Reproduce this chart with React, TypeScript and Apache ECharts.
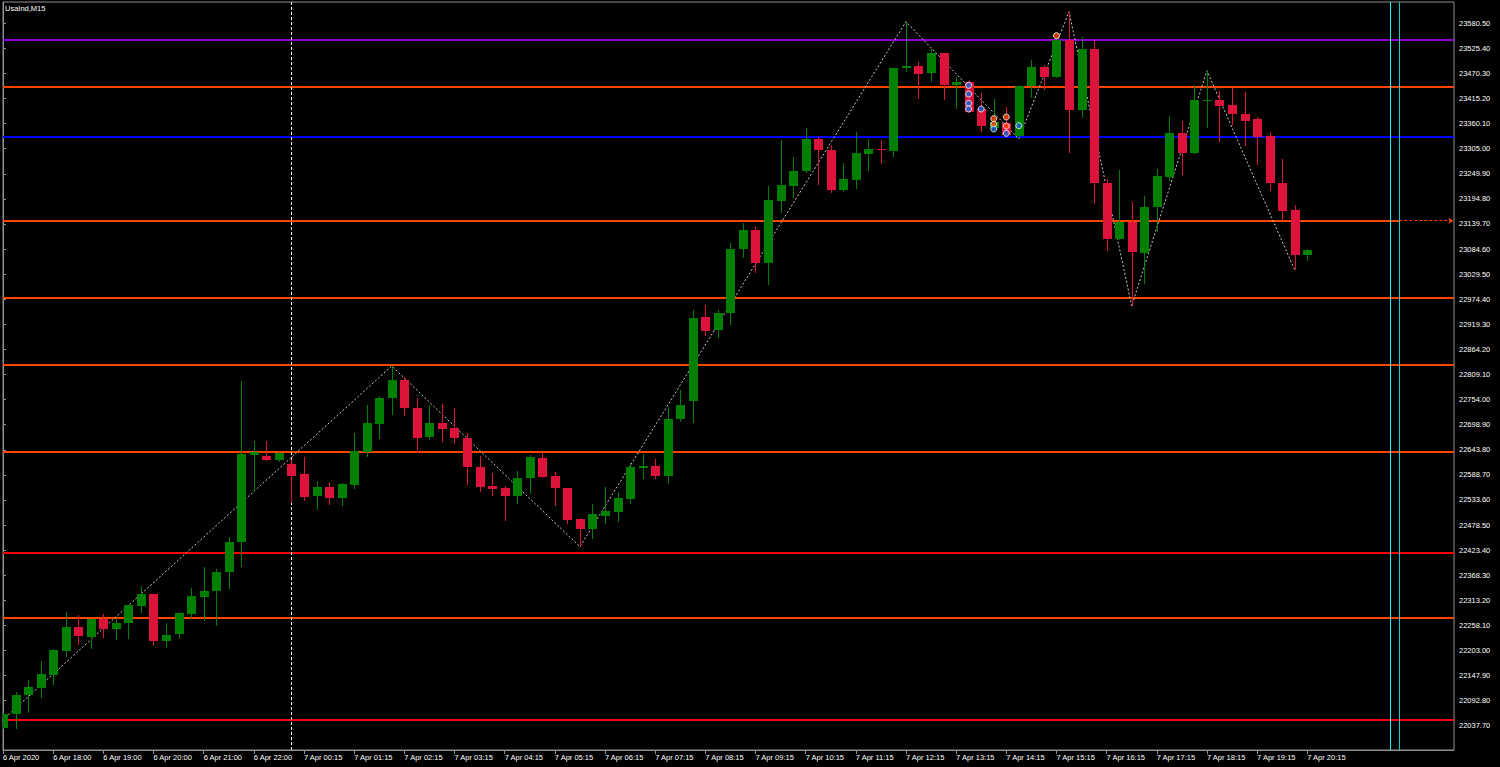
import React, { useEffect, useRef } from "react";
import * as echarts from "echarts";

const chartTitle = "UsaInd,M15";

const xLabelIdx = [0, 4, 8, 12, 16, 20, 24, 28, 32, 36, 40, 44, 48, 52, 56, 60, 64, 68, 72, 76, 80, 84, 88, 92, 96, 100, 104];
const xLabels = [
  "6 Apr 2020", "6 Apr 18:00", "6 Apr 19:00", "6 Apr 20:00", "6 Apr 21:00", "6 Apr 22:00",
  "7 Apr 00:15", "7 Apr 01:15", "7 Apr 02:15", "7 Apr 03:15", "7 Apr 04:15", "7 Apr 05:15",
  "7 Apr 06:15", "7 Apr 07:15", "7 Apr 08:15", "7 Apr 09:15", "7 Apr 10:15", "7 Apr 11:15",
  "7 Apr 12:15", "7 Apr 13:15", "7 Apr 14:15", "7 Apr 15:15", "7 Apr 16:15", "7 Apr 17:15",
  "7 Apr 18:15", "7 Apr 19:15", "7 Apr 20:15",
];

const yTicks = [
  22037.7, 22092.8, 22147.9, 22203.0, 22258.1, 22313.2, 22368.3, 22423.4, 22478.5, 22533.6,
  22588.7, 22643.8, 22698.9, 22754.0, 22809.1, 22864.2, 22919.3, 22974.4, 23029.5, 23084.6,
  23139.7, 23194.8, 23249.9, 23305.0, 23360.1, 23415.2, 23470.3, 23525.4, 23580.5,
];

const opens = [
  22032.0, 22062.7, 22105.8, 22121.2, 22149.1, 22202.4, 22253.8, 22233.2, 22272.7, 22250.8,
  22262.6, 22301.3, 22326.3, 22223.7, 22239.1, 22283.0, 22321.1, 22334.2, 22375.3, 22441.9,
  22633.0, 22630.1, 22621.3, 22611.9, 22589.9, 22542.2, 22562.0, 22538.5, 22566.4, 22639.5,
  22701.0, 22756.8, 22797.0, 22736.2, 22671.2, 22701.9, 22691.6, 22670.3, 22605.3, 22564.2,
  22559.2, 22542.9, 22581.8, 22626.4, 22586.2, 22560.5, 22491.7, 22469.1, 22499.0, 22507.8,
  22535.7, 22604.4, 22608.1, 22586.8, 22710.7, 22750.9, 22935.4, 22906.9, 22943.5, 23084.8,
  23126.5, 23053.4, 23190.9, 23223.8, 23256.1, 23325.7, 23302.2, 23214.4, 23236.3, 23292.8,
  23304.4, 23300.7, 23483.4, 23486.7, 23470.7, 23515.9, 23445.7, 23452.3, 23392.3, 23350.5,
  23360.9, 23333.6, 23442.8, 23483.9, 23463.2, 23543.8, 23390.1, 23524.1, 23229.1, 23106.1,
  23144.7, 23076.6, 23177.7, 23243.6, 23338.9, 23296.3, 23409.9, 23412.1, 23401.1, 23382.0,
  23370.3, 23333.6, 23230.4, 23170.4, 23071.6,
];
const closes = [
  22062.7, 22105.1, 22122.7, 22150.6, 22204.0, 22253.8, 22235.4, 22272.7, 22250.8, 22263.3,
  22302.2, 22326.3, 22223.7, 22236.3, 22284.6, 22322.6, 22333.6, 22375.3, 22441.2, 22634.5,
  22638.2, 22621.3, 22636.0, 22586.8, 22540.7, 22562.0, 22538.5, 22568.6, 22641.1, 22701.9,
  22756.8, 22797.0, 22734.9, 22669.6, 22702.6, 22689.4, 22669.0, 22605.3, 22562.7, 22557.6,
  22542.9, 22581.8, 22628.6, 22583.3, 22560.5, 22489.5, 22469.8, 22502.0, 22510.0, 22538.5,
  22606.6, 22608.1, 22586.8, 22711.4, 22742.1, 22933.2, 22904.7, 22944.2, 23085.4, 23126.5,
  23053.4, 23192.4, 23225.4, 23256.1, 23325.7, 23302.2, 23214.4, 23237.9, 23295.0, 23304.4,
  23303.0, 23481.7, 23486.1, 23468.5, 23514.6, 23445.0, 23450.9, 23386.4, 23354.9, 23363.7,
  23335.2, 23443.5, 23485.2, 23463.2, 23543.8, 23390.1, 23524.1, 23229.1, 23106.1, 23143.4,
  23077.5, 23177.7, 23245.8, 23340.2, 23295.0, 23412.1, 23411.4, 23399.5, 23380.6, 23366.6,
  23330.8, 23229.1, 23168.2, 23071.6, 23082.6,
];
const highs = [
  22065.6, 22112.4, 22138.1, 22179.8, 22205.5, 22286.8, 22280.9, 22272.7, 22283.0, 22274.9,
  22302.2, 22344.6, 22326.3, 22263.3, 22286.8, 22339.5, 22385.6, 22381.2, 22452.8, 22794.8,
  22663.0, 22663.0, 22639.5, 22621.3, 22628.6, 22575.2, 22570.1, 22570.1, 22681.3, 22742.1,
  22761.9, 22827.8, 22804.3, 22756.8, 22742.1, 22743.7, 22736.2, 22680.0, 22630.1, 22593.4,
  22564.2, 22597.1, 22632.3, 22636.0, 22595.6, 22560.5, 22494.6, 22524.7, 22562.7, 22551.7,
  22614.1, 22634.5, 22623.5, 22738.4, 22775.1, 22950.8, 22961.8, 22950.8, 23097.3, 23142.5,
  23132.4, 23223.2, 23324.2, 23287.5, 23349.9, 23331.4, 23313.2, 23273.0, 23342.4, 23326.4,
  23324.2, 23481.7, 23584.0, 23494.9, 23523.4, 23515.9, 23463.2, 23455.0, 23426.8, 23413.6,
  23396.0, 23445.7, 23499.9, 23488.9, 23548.9, 23606.0, 23549.8, 23543.8, 23237.9, 23258.3,
  23187.4, 23201.2, 23260.5, 23376.9, 23365.9, 23443.5, 23476.4, 23431.8, 23437.8, 23430.3,
  23375.4, 23341.1, 23282.5, 23181.4, 23084.1,
];
const lows = [
  22030.5, 22029.8, 22064.9, 22099.2, 22127.1, 22189.3, 22215.0, 22206.2, 22231.0, 22225.9,
  22228.1, 22284.6, 22215.0, 22207.7, 22228.1, 22272.1, 22268.3, 22257.4, 22337.3, 22386.9,
  22551.7, 22619.1, 22616.3, 22526.2, 22531.3, 22511.5, 22522.5, 22520.9, 22557.6, 22628.6,
  22666.8, 22720.1, 22718.0, 22637.3, 22665.2, 22661.5, 22655.8, 22566.4, 22551.7, 22542.9,
  22488.0, 22524.7, 22546.0, 22581.1, 22520.9, 22480.1, 22430.9, 22447.8, 22480.7, 22484.5,
  22524.7, 22579.6, 22579.6, 22568.6, 22705.4, 22701.9, 22893.7, 22889.3, 22917.8, 23065.7,
  23032.7, 23005.7, 23163.2, 23196.1, 23252.4, 23225.4, 23208.4, 23210.6, 23216.6, 23256.1,
  23271.5, 23287.5, 23474.2, 23414.3, 23452.3, 23412.1, 23392.3, 23384.0, 23341.1, 23342.4,
  23331.4, 23326.4, 23415.8, 23434.0, 23461.0, 23296.3, 23373.2, 23183.0, 23081.0, 23104.5,
  22959.6, 23007.2, 23122.8, 23234.8, 23247.3, 23292.8, 23349.9, 23320.5, 23357.1, 23311.7,
  23269.3, 23212.2, 23146.3, 23038.6, 23059.1,
];

// zigzag vertices: bar index and price
const zigIdx = [-1, 31, 46, 72, 81, 85, 90, 96, 103];
const zigVal = [22026.0, 22827.8, 22430.9, 23584.0, 23326.4, 23606.0, 22959.6, 23476.4, 23038.6];

// horizontal levels
const levelVals = [23543.8, 23440.6, 23331.4, 22978.7, 22830.6, 22639.5, 22417.7, 22274.9, 22050.2];
const levelColors = ["#9400D3", "#FF4500", "#0000FF", "#FF4500", "#FF4500", "#FF4500", "#FF0000", "#FF4500", "#FF0000"];
const alertLevel = 23146.9;

// vertical lines (bar index positions)
const daySeparatorIdx = 23;
const cyanIdx = [110.65, 111.34];
const cyanColors = ["#00FFFF", "#00CED1"];

// trade markers
const markerIdx = [77, 77, 77, 77, 78, 79, 79, 79, 80, 80, 80, 81, 84];
const markerVal = [23444.3, 23425.2, 23404.8, 23392.3, 23392.3, 23371.0, 23358.7, 23348.4, 23374.7, 23354.9, 23338.9, 23355.6, 23553.3];
const markerSide = ["buy", "buy", "buy", "buy", "buy", "sell", "sell", "buy", "sell", "sell", "buy", "buy", "sell"];

const X_MIN = 0;
const X_MAX = 115.7;
const Y_MIN = 21984.3;
const Y_MAX = 23627.3;

const GREEN = "#008000";
const RED = "#DC143C";
const AXIS = "#909090";
const FONT = "Liberation Sans";
const FS = 7.5;

export default function App() {
  const ref = useRef<HTMLDivElement>(null);

  useEffect(() => {
    document.body.style.margin = "0";
    document.body.style.background = "#000";
    if (!ref.current) return;
    const chart = echarts.init(ref.current, undefined, { renderer: "svg" });

    const candleData = opens.map((o, i) => [i, o, closes[i], lows[i], highs[i]]);
    const zigData = zigIdx.map((x, i) => [x, zigVal[i]]);
    const markerData = markerIdx.map((x, i) => ({
      value: [x, markerVal[i]],
      itemStyle: { color: markerSide[i] === "buy" ? "#1E64D2" : "#FF4500" },
    }));

    const markLines: any[] = [];
    levelVals.forEach((v, i) => {
      markLines.push({ yAxis: v, lineStyle: { color: levelColors[i], width: 2, type: "solid" } });
    });
    markLines.push([
      { coord: [X_MIN, alertLevel], lineStyle: { color: "#FF4500", width: 2, type: "solid" } },
      { coord: [cyanIdx[1], alertLevel] },
    ]);
    markLines.push([
      { coord: [cyanIdx[1], alertLevel], lineStyle: { color: "#FF4500", width: 1, type: [3, 2] } },
      { coord: [X_MAX - 0.05, alertLevel], symbol: "arrow", symbolSize: 5 },
    ]);
    markLines.push({ xAxis: daySeparatorIdx, lineStyle: { color: "#ffffff", width: 1, type: [3, 2] } });
    cyanIdx.forEach((x, i) => {
      markLines.push({ xAxis: x, lineStyle: { color: cyanColors[i], width: 1, type: "solid" } });
    });

    const option: any = {
      animation: false,
      backgroundColor: "#000000",
      textStyle: { fontFamily: FONT },
      graphic: [
        {
          type: "text",
          left: 5,
          top: 4,
          style: { text: chartTitle, fill: "#ffffff", font: `${FS}px ${FONT}` },
        },
      ],
      grid: {
        left: 2,
        top: 2,
        width: 1452,
        height: 748,
        show: true,
        borderColor: AXIS,
        borderWidth: 1,
        backgroundColor: "#000000",
      },
      xAxis: {
        type: "value",
        min: X_MIN,
        max: X_MAX,
        axisLine: { show: true, lineStyle: { color: AXIS } },
        axisTick: { show: true, length: 4, customValues: xLabelIdx, lineStyle: { color: AXIS } },
        axisLabel: {
          customValues: xLabelIdx,
          formatter: (v: number) => {
            const k = xLabelIdx.indexOf(Math.round(v));
            return k >= 0 ? xLabels[k] : "";
          },
          align: "left",
          margin: 3,
          color: "#ffffff",
          fontSize: FS,
          fontFamily: FONT,
        },
        splitLine: { show: false },
      },
      yAxis: {
        type: "value",
        position: "right",
        min: Y_MIN,
        max: Y_MAX,
        scale: true,
        axisLine: { show: true, lineStyle: { color: AXIS } },
        axisTick: { show: true, length: 3, customValues: yTicks, lineStyle: { color: AXIS } },
        axisLabel: {
          customValues: yTicks,
          formatter: (v: number) => v.toFixed(2),
          margin: 5,
          color: "#ffffff",
          fontSize: FS,
          fontFamily: FONT,
        },
        splitLine: { show: false },
      },
      series: [
        {
          type: "line",
          data: zigData,
          symbol: "none",
          clip: true,
          lineStyle: { color: "#c8c8c8", width: 1, type: [2, 2] },
          z: 3,
          markLine: {
            silent: true,
            symbol: ["none", "none"],
            label: { show: false },
            animation: false,
            data: markLines,
            z: 1,
          },
        },
        {
          type: "custom",
          clip: true,
          z: 4,
          data: candleData,
          encode: { x: 0, y: [1, 2, 3, 4] },
          renderItem: (params: any, api: any) => {
            const i = api.value(0);
            const o = api.value(1);
            const c = api.value(2);
            const l = api.value(3);
            const h = api.value(4);
            const pO = api.coord([i, o]);
            const pC = api.coord([i, c]);
            const pL = api.coord([i, l]);
            const pH = api.coord([i, h]);
            const cx = Math.round(pO[0]);
            const color = c >= o ? GREEN : RED;
            const top = Math.round(Math.min(pO[1], pC[1]));
            const bot = Math.round(Math.max(pO[1], pC[1]));
            const bh = Math.max(bot - top, 1);
            return {
              type: "group",
              children: [
                {
                  type: "line",
                  shape: { x1: cx + 0.5, y1: Math.round(pH[1]), x2: cx + 0.5, y2: Math.round(pL[1]) },
                  style: { stroke: color, lineWidth: 1 },
                },
                {
                  type: "rect",
                  shape: { x: cx - 4, y: top, width: 9, height: bh },
                  style: { fill: color },
                },
              ],
            };
          },
        },
        {
          type: "scatter",
          data: markerData,
          symbol: "circle",
          symbolSize: 6,
          z: 5,
          itemStyle: { borderColor: "#ffffff", borderWidth: 1 },
        },
      ],
    };

    chart.setOption(option);
    return () => chart.dispose();
  }, []);

  return (
    <div
      ref={ref}
      style={{ position: "absolute", left: 0, top: 0, width: 1500, height: 767, background: "#000" }}
    />
  );
}
